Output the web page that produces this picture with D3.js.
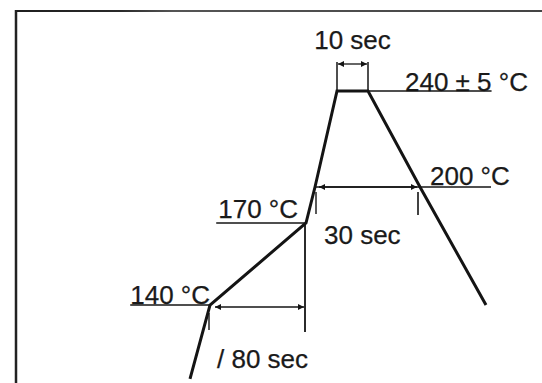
<!DOCTYPE html>
<html>
<head>
<meta charset="utf-8">
<script src="https://cdn.jsdelivr.net/npm/d3@7"></script>
<style>
  html, body { margin: 0; padding: 0; background: #fff; }
  svg { display: block; }
  text { font-family: "Liberation Sans", Arial, Helvetica, sans-serif; fill: #1a1a1a; }
</style>
</head>
<body>
<svg id="chart" width="542" height="383"></svg>
<script>
// Reflow soldering temperature profile (schematic, not to scale)

// profile vertices: time in seconds (t = 0 when the board reaches 140 °C)
const profileTime = [-15, 0, 80, 90, 100, 110, 120, 135];
const profileTemp = [113, 140, 170, 200, 240, 240, 200, 140];

// temperature levels marked on the profile
const levelTemps  = [140, 170, 200, 240];
const levelLabels = ["140 °C", "170 °C", "200 °C", "240 ± 5 °C"];

// timed intervals: [start, end] in seconds
const spanStart  = [0, 90, 100];
const spanEnd    = [80, 120, 110];
const spanLabels = ["/ 80 sec", "30 sec", "10 sec"];

const svg = d3.select("#chart");
const W = 542, H = 383;

// The drawing is schematic, so both axes use piecewise-linear scales
const x = d3.scaleLinear()
  .domain(profileTime)
  .range([190, 210, 306, 315, 337, 368, 420, 486]);
const y = d3.scaleLinear()
  .domain(levelTemps)
  .range([305, 223, 187, 91]);

const ink = "#141414";

// defs: small arrowheads for the dimension lines, and a fading rule for the frame top
const defs = svg.append("defs");
["start", "end"].forEach(k => {
  defs.append("marker")
    .attr("id", "arrow-" + k)
    .attr("viewBox", "0 0 10 10")
    .attr("refX", k === "end" ? 10 : 0)
    .attr("refY", 5)
    .attr("markerWidth", 7)
    .attr("markerHeight", 6)
    .attr("markerUnits", "userSpaceOnUse")
    .attr("orient", "auto")
    .append("path")
    .attr("d", k === "end" ? "M0,0 L10,5 L0,10 Z" : "M10,0 L0,5 L10,10 Z")
    .attr("fill", ink);
});
const grad = defs.append("linearGradient").attr("id", "frame-top")
  .attr("gradientUnits", "userSpaceOnUse")
  .attr("x1", 15).attr("x2", W).attr("y1", 0).attr("y2", 0);
grad.append("stop").attr("offset", 0).attr("stop-color", "#1e1e1e");
grad.append("stop").attr("offset", 0.2).attr("stop-color", "#2a2a2a");
grad.append("stop").attr("offset", 0.3).attr("stop-color", "#555");
grad.append("stop").attr("offset", 1).attr("stop-color", "#444");

// frame (top and left edges visible)
svg.append("rect").attr("x", 15).attr("y", 10).attr("width", W - 15).attr("height", 2)
  .attr("fill", "url(#frame-top)");
svg.append("line").attr("x1", 16).attr("x2", 16).attr("y1", 10).attr("y2", H)
  .attr("stroke", "#222").attr("stroke-width", 2.5);

const pts = profileTime.map((t, i) => ({ t, temp: profileTemp[i] }));
const byTemp = (temp, side) => {
  // first crossing on the rising ("up") or falling ("down") side
  const idx = side === "up" ? profileTemp.indexOf(temp) : profileTemp.lastIndexOf(temp);
  return pts[idx];
};

const fontSize = 26;
const label = (txt, px, py, anchor) =>
  svg.append("text")
    .attr("x", px).attr("y", py)
    .attr("text-anchor", anchor || "start")
    .attr("font-size", fontSize)
    .attr("stroke", "#1a1a1a")
    .attr("stroke-width", 0.25)
    .text(txt);

// ---- temperature levels ----
// 140 °C: underline runs from the label to the profile
{
  const p = byTemp(140, "up");
  const t = label(levelLabels[0], x(p.t), y(140) - 1, "end");
  const bb = t.node().getBBox();
  svg.append("line").attr("x1", bb.x).attr("x2", x(p.t)).attr("y1", y(140)).attr("y2", y(140))
    .attr("stroke", ink).attr("stroke-width", 1.6);
}
// 170 °C
{
  const p = byTemp(170, "up");
  const t = label(levelLabels[1], x(p.t) - 8, y(170) - 5, "end");
  const bb = t.node().getBBox();
  svg.append("line").attr("x1", bb.x - 2).attr("x2", x(p.t)).attr("y1", y(170)).attr("y2", y(170))
    .attr("stroke", ink).attr("stroke-width", 1.6);
}
// 200 °C: line from rising edge, under the label as far as the degree sign
{
  const up = byTemp(200, "up"), dn = byTemp(200, "down");
  const t = label(levelLabels[2], x(dn.t) + 10, y(200) - 2);
  const x0 = +t.attr("x");
  const end = x0 + t.node().getSubStringLength(0, 5);
  svg.append("line").attr("x1", x(up.t)).attr("x2", end)
    .attr("y1", y(200)).attr("y2", y(200))
    .attr("stroke", ink).attr("stroke-width", 1.4);
}
// 240 ± 5 °C: line from the start of the peak, under the label to the "5"
{
  const p0 = byTemp(240, "up"), p1 = byTemp(240, "down");
  const t = label(levelLabels[3], x(p1.t) + 37, y(240));
  const x0 = +t.attr("x");
  const end = x0 + t.node().getSubStringLength(0, 7);
  svg.append("line").attr("x1", x(p0.t)).attr("x2", end)
    .attr("y1", y(240)).attr("y2", y(240))
    .attr("stroke", ink).attr("stroke-width", 1.4);
}

// ---- timed intervals ----
const dim = (x1, x2, yy) =>
  svg.append("line").attr("x1", x1).attr("x2", x2).attr("y1", yy).attr("y2", yy)
    .attr("stroke", ink).attr("stroke-width", 1.3)
    .attr("marker-start", "url(#arrow-start)")
    .attr("marker-end", "url(#arrow-end)");
const tick = (xx, y1, y2, w) =>
  svg.append("line").attr("x1", xx).attr("x2", xx).attr("y1", y1).attr("y2", y2)
    .attr("stroke", ink).attr("stroke-width", w || 1.4);

// 80 sec: 140 °C -> 170 °C
{
  const a = x(spanStart[0]), b = x(spanEnd[0]) - 1, yy = y(140) + 2;
  dim(a + 5, b - 1, yy);
  tick(b, y(170), y(140) + 27, 1.8);
  tick(a - 1, yy + 6, yy + 23, 1.4);
  label(spanLabels[0], a + 7, 368);
}
// 30 sec above 200 °C
{
  const a = x(spanStart[1]), b = x(spanEnd[1]) - 1, yy = y(200);
  dim(a + 4, b - 2, yy);
  tick(a + 1, yy + 5, yy + 27, 1.4);
  tick(b - 1, yy + 5, yy + 28, 1.6);
  label(spanLabels[1], a + 9, 244);
}
// 10 sec at peak
{
  const a = x(spanStart[2]), b = x(spanEnd[2]), yy = y(240) - 27;
  tick(a, y(240), yy - 2, 1.5);
  tick(b, y(240), yy - 2, 1.5);
  dim(a + 1, b - 1, yy);
  label(spanLabels[2], (a + b) / 2, 49, "middle");
}

// ---- profile ----
const line = d3.line().x(d => x(d.t)).y(d => y(d.temp));
svg.append("path")
  .datum(pts)
  .attr("d", line)
  .attr("fill", "none")
  .attr("stroke", ink)
  .attr("stroke-width", 3)
  .attr("stroke-linejoin", "miter")
  .attr("stroke-linecap", "butt");
</script>
</body>
</html>
